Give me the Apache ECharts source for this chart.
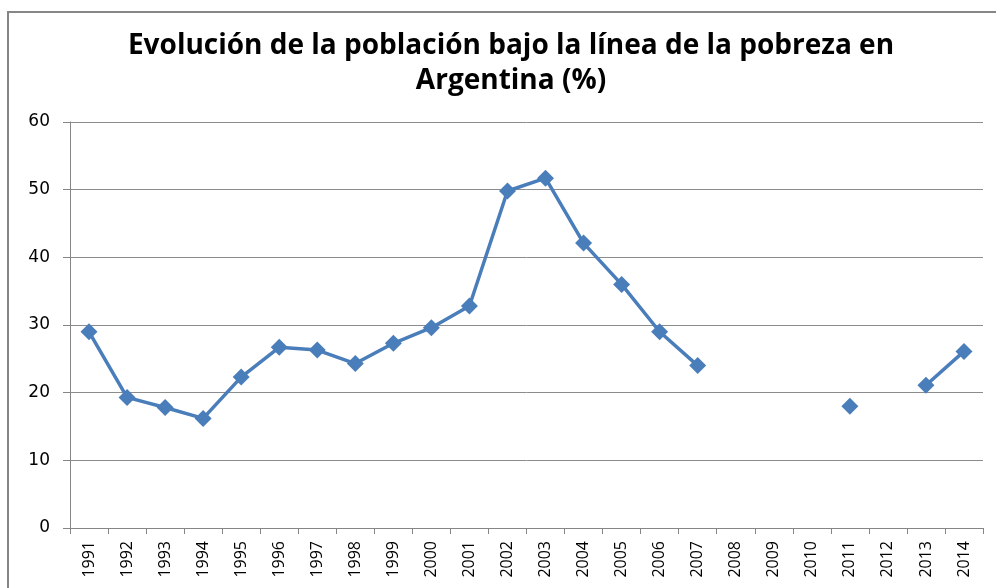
<!DOCTYPE html>
<html>
<head>
<meta charset="utf-8">
<script src="https://cdn.jsdelivr.net/npm/echarts@6/dist/echarts.min.js"></script>
<style>
  html, body { margin: 0; padding: 0; background: #fff; }
  #chart { width: 996px; height: 588px; }
</style>
</head>
<body>
<div id="chart"></div>
<script>
// años y porcentaje bajo la línea de pobreza (null = sin dato)
const years = ['1991', '1992', '1993', '1994', '1995', '1996', '1997', '1998', '1999', '2000', '2001', '2002',
  '2003', '2004', '2005', '2006', '2007', '2008', '2009', '2010', '2011', '2012', '2013', '2014']
const pobreza = [29.0, 19.3, 17.8, 16.2, 22.3, 26.7, 26.3, 24.3, 27.3, 29.6, 32.8, 49.8,
  51.7, 42.1, 36.0, 29.0, 24.0, null, null, null, 18.0, null, 21.1, 26.1]
const yTicks = [0, 10, 20, 30, 40, 50, 60]

const chart = echarts.init(document.getElementById('chart'))
chart.setOption({
  animation: false,
  backgroundColor: '#fff',
  title: {
    text: 'Evolución de la población bajo la línea de la pobreza en\nArgentina (%)',
    left: 506,
    textAlign: 'center',
    top: 24,
    textStyle: {
      fontFamily: 'Open Sans',
      fontWeight: 'bold',
      fontSize: 28,
      lineHeight: 35,
      color: '#000'
    }
  },
  graphic: [
    {
      type: 'rect',
      shape: { x: 8, y: 12, width: 1010, height: 600 },
      style: { fill: 'none', stroke: '#868686', lineWidth: 2 },
      silent: true
    }
  ],
  grid: { left: 70, right: 13, top: 122, bottom: 60 },
  xAxis: {
    type: 'category',
    data: years,
    boundaryGap: true,
    axisLine: { lineStyle: { color: '#868686', width: 1 } },
    axisTick: { show: true, length: 6, lineStyle: { color: '#868686' } },
    axisLabel: {
      rotate: 90,
      margin: 13,
      fontFamily: 'Open Sans',
      fontSize: 16,
      color: '#000',
      interval: 0
    },
    splitLine: { show: false }
  },
  yAxis: {
    type: 'value',
    min: yTicks[0],
    max: yTicks[yTicks.length - 1],
    interval: 10,
    axisLine: { show: true, lineStyle: { color: '#868686', width: 1 } },
    axisTick: { show: true, length: 7, lineStyle: { color: '#868686' } },
    axisLabel: {
      margin: 20,
      fontFamily: 'DejaVu Sans',
      fontSize: 17,
      color: '#000'
    },
    splitLine: { lineStyle: { color: '#8c8c8c', width: 1 } }
  },
  series: [
    {
      name: 'Pobreza',
      type: 'line',
      data: pobreza,
      connectNulls: false,
      symbol: 'diamond',
      symbolSize: 17,
      lineStyle: { color: '#4a7ebb', width: 3.5 },
      itemStyle: { color: '#4a7ebb' }
    }
  ]
})
</script>
</body>
</html>
